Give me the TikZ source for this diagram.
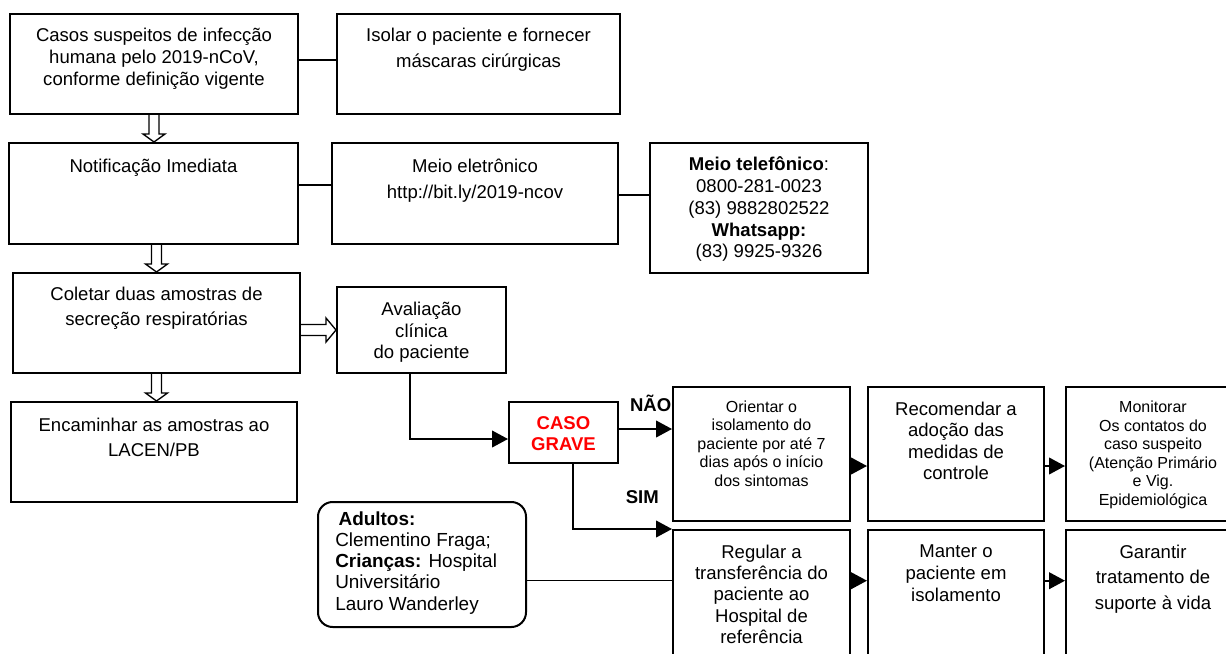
\documentclass[tikz,border=0pt]{standalone}
\usepackage{fontspec}
\setmainfont{Liberation Sans}
\usetikzlibrary{arrows.meta,calc,fit}

\tikzset{
  box/.style={draw, line width=1.5pt, inner sep=0pt},
  txt/.style={font=\fontsize{13.9}{#1}\selectfont, align=center, inner sep=0pt},
  txt/.default=16.5,
  small/.style={font=\fontsize{12}{13.9}\selectfont, align=center, inner sep=0pt},
  lbl/.style={font=\fontsize{13.9}{16.2}\selectfont\bfseries, align=center, inner sep=0pt},
  link/.style={line width=1pt},
  arr/.style={line width=1.5pt, -{Triangle[length=12pt,width=12.5pt]}},
  hollow/.style={line width=1pt, line join=miter},
}

\begin{document}
\begin{tikzpicture}[x=0.75pt,y=-0.75pt]
  \useasboundingbox (0,0) rectangle (1226,653);
  \clip (0,0) rectangle (1226,653);

  \node[box, fit={(10,14) (298,114)}] (casos) {};
  \node[box, fit={(337,14) (620,114)}] (isolar) {};
  \node[box, fit={(9,143) (298,244)}] (notif) {};
  \node[box, fit={(332,143) (618,244)}] (eletr) {};
  \node[box, fit={(650,143) (868,273)}] (telef) {};
  \node[box, fit={(13,273) (300,373)}] (coletar) {};
  \node[box, fit={(337,287) (506,373)}] (aval) {};
  \node[box, fit={(11,402) (297,502)}] (encam) {};
  \node[box, fit={(509,402) (618,463)}] (grave) {};
  \node[box, fit={(673,387) (850,521)}] (orient) {};
  \node[box, fit={(868,387) (1044,521)}] (recom) {};
  \node[box, fit={(1066,387) (1243,521)}] (monit) {};
  \node[box, fit={(673,530) (850,672)}] (regular) {};
  \node[box, fit={(868,530) (1044,672)}] (manter) {};
  \node[box, fit={(1066,530) (1243,672)}] (garant) {};
  \node[box, rounded corners=11pt, fit={(318,502) (526,627)}] (hosp) {};

  \node[txt] (casos-t) at (154,59) {Casos suspeitos de infecção\\humana pelo 2019-nCoV,\\conforme definição vigente};
  \node[txt=19.3] (isolar-t) at (478.5,50) {Isolar o paciente e fornecer\\máscaras cirúrgicas};
  \node[txt] (notif-t) at (153.5,167.7) {Notificação Imediata};
  \node[txt=19.5] (eletr-t) at (475,180.7) {Meio eletrônico\\http://bit.ly/2019-ncov};
  \node[txt=16.3] (telef-t) at (759,209.4) {\textbf{Meio telefônico}:\\0800-281-0023\\(83) 9882802522\\\textbf{Whatsapp:}\\(83) 9925-9326};
  \node[txt=18.2] (coletar-t) at (156.5,308.2) {Coletar duas amostras de\\secreção respiratórias};
  \node[txt=16] (aval-t) at (421.5,332.4) {Avaliação\\clínica\\do paciente};
  \node[txt=19] (encam-t) at (154,437.7) {Encaminhar as amostras ao\\LACEN/PB};
  \node[lbl, text=red] (grave-t) at (563.5,433.5) {CASO\\GRAVE};
  \node[small] (orient-t) at (761.5,443.7) {Orientar o\\isolamento do\\paciente por até 7\\dias após o início\\dos sintomas};
  \node[txt=16] (recom-t) at (956,441) {Recomendar a\\adoção das\\medidas de\\controle};
  \node[small] (monit-t) at (1153,454.9) {Monitorar\\Os contatos do\\caso suspeito\\(Atenção Primário\\e Vig.\\Epidemiológica};
  \node[txt=15.9] (regular-t) at (761.5,594.2) {Regular a\\transferência do\\paciente ao\\Hospital de\\referência};
  \node[txt=16.3] (manter-t) at (956,573.4) {Manter o\\paciente em\\isolamento};
  \node[txt=19] (garant-t) at (1153,579) {Garantir\\tratamento de\\suporte à vida};
  \node[txt=15.9, align=left, anchor=west, font=\fontsize{14.2}{15.9}\selectfont] (hosp-t) at (335,562.7) {\hspace*{2.5pt}\textbf{Adultos:}\\Clementino Fraga;\\\textbf{Crianças:} Hospital\\Universitário\\Lauro Wanderley};
  \node[lbl] (nao) at (650.7,403.3) {NÃO};
  \node[lbl] (sim) at (642.3,496.7) {SIM};

  \coordinate (yA) at (0,60);
  \coordinate (yB) at (0,185);
  \coordinate (yC) at (0,195);
  \coordinate (yG) at (0,439);
  \coordinate (yN) at (0,429);
  \coordinate (r1) at (0,466);
  \coordinate (r2) at (0,580.7);

  \draw[link] (casos.east |- yA) -- (isolar.west |- yA);
  \draw[link] (notif.east |- yB) -- (eletr.west |- yB);
  \draw[link] (eletr.east |- yC) -- (telef.west |- yC);
  \draw[link] (hosp.east |- r2) -- (regular.west |- r2);

  \draw[hollow] ($(casos.south)+(-5,0)$) -- ($(casos.south |- notif.north)+(-5,-8)$) -- ($(casos.south |- notif.north)+(-11,-8)$) -- (casos.south |- notif.north) -- ($(casos.south |- notif.north)+(11,-8)$) -- ($(casos.south |- notif.north)+(5,-8)$) -- ($(casos.south)+(5,0)$);
  \draw[hollow] ($(coletar.north |- notif.south)+(-5,0)$) -- ($(coletar.north)+(-5,-8)$) -- ($(coletar.north)+(-11,-8)$) -- (coletar.north) -- ($(coletar.north)+(11,-8)$) -- ($(coletar.north)+(5,-8)$) -- ($(coletar.north |- notif.south)+(5,0)$);
  \draw[hollow] ($(coletar.south)+(-5,0)$) -- ($(coletar.south |- encam.north)+(-5,-8)$) -- ($(coletar.south |- encam.north)+(-11,-8)$) -- (coletar.south |- encam.north) -- ($(coletar.south |- encam.north)+(11,-8)$) -- ($(coletar.south |- encam.north)+(5,-8)$) -- ($(coletar.south)+(5,0)$);
  \draw[hollow] ($(coletar.east |- aval.west)+(0,-5.5)$) -- ($(aval.west)+(-10,-5.5)$) -- ($(aval.west)+(-10,-12)$) -- (aval.west) -- ($(aval.west)+(-10,12)$) -- ($(aval.west)+(-10,5.5)$) -- ($(coletar.east |- aval.west)+(0,5.5)$);

  \draw[arr] ($(aval.south)+(-12,0)$) |- (grave.west |- yG);
  \draw[arr] (grave.east |- yN) -- (orient.west |- yN);
  \draw[arr] ($(grave.south)+(9,0)$) |- (regular.north west);
  \draw[arr] (orient.east |- r1) -- (recom.west |- r1);
  \draw[arr] (recom.east |- r1) -- (monit.west |- r1);
  \draw[arr] (regular.east |- r2) -- (manter.west |- r2);
  \draw[arr] (manter.east |- r2) -- (garant.west |- r2);
\end{tikzpicture}
\end{document}
